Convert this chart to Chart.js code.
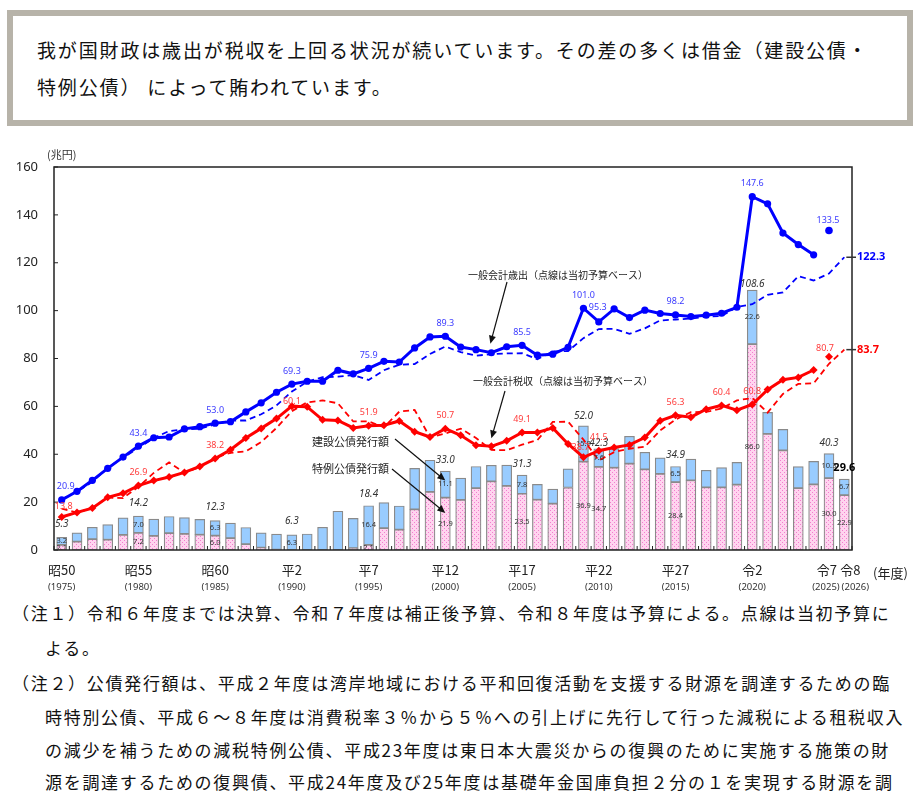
<!DOCTYPE html>
<html lang="ja">
<head>
<meta charset="utf-8">
<script src="https://cdn.jsdelivr.net/npm/chart.js@4.4.1/dist/chart.umd.min.js"></script>
<style>
  html, body { margin: 0; padding: 0; background: #fff; }
  body { width: 919px; height: 803px; position: relative; overflow: hidden;
         font-family: "Noto Sans CJK JP", sans-serif; color: #111; }
  #head { position: absolute; left: 7px; top: 10px; width: 906px; height: 116px;
          box-sizing: border-box; border: 6px solid #b7b3a9; background: #fff; }
  #head div { position: absolute; left: 24px; font-size: 19px; letter-spacing: 1.85px;
              line-height: 24px; white-space: pre; }
  #wrap { position: absolute; left: 0; top: 140px; width: 919px; height: 460px; }
  .note { position: absolute; font-size: 17px; letter-spacing: 1.7px; line-height: 22px; white-space: pre; }
</style>
</head>
<body>
<div id="head">
  <div style="top:22px">我が国財政は歳出が税収を上回る状況が続いています。その差の多くは借金（建設公債・</div>
  <div style="top:59px">特例公債） によって賄われています。</div>
</div>
<div id="wrap"><canvas id="chart" width="919" height="460"></canvas></div>
<div class="note" style="left:12px;top:602px">（注１）令和６年度までは決算、令和７年度は補正後予算、令和８年度は予算による。点線は当初予算に</div>
<div class="note" style="left:45px;top:637px">よる。</div>
<div class="note" style="left:12px;top:672px">（注２）公債発行額は、平成２年度は湾岸地域における平和回復活動を支援する財源を調達するための臨</div>
<div class="note" style="left:45px;top:706px">時特別公債、平成６～８年度は消費税率３％から５％への引上げに先行して行った減税による租税収入</div>
<div class="note" style="left:45px;top:739px">の減少を補うための減税特例公債、平成23年度は東日本大震災からの復興のために実施する施策の財</div>
<div class="note" style="left:45px;top:771px">源を調達するための復興債、平成24年度及び25年度は基礎年金国庫負担２分の１を実現する財源を調</div>

<script>
// 年度（昭50〜令8）
const years = [1975,1976,1977,1978,1979,1980,1981,1982,1983,1984,
               1985,1986,1987,1988,1989,1990,1991,1992,1993,1994,
               1995,1996,1997,1998,1999,2000,2001,2002,2003,2004,
               2005,2006,2007,2008,2009,2010,2011,2012,2013,2014,
               2015,2016,2017,2018,2019,2020,2021,2022,2023,2024,
               2025,2026];
const tickYears = [1975,1980,1985,1990,1995,2000,2005,2010,2015,2020,2025,2026];
const tickEras = ['昭50','昭55','昭60','平2','平7','平12','平17','平22','平27','令2','令7','令8'];

// 一般会計歳出・決算（兆円）1975-2024
const expSettled = [20.9,24.5,29.1,34.1,38.8,43.4,46.9,47.2,50.6,51.5,
                    53.0,53.6,57.7,61.5,65.9,69.3,70.5,70.5,75.1,73.6,
                    75.9,78.8,78.5,84.4,89.0,89.3,84.8,83.7,82.4,84.9,
                    85.5,81.4,81.8,84.7,101.0,95.3,100.7,97.1,100.2,98.8,
                    98.2,97.5,98.1,98.9,101.4,147.6,144.6,132.4,127.6,123.3];
const expRevised2025 = 133.5;
// 一般会計歳出・当初予算 1975-2026
const expInitial = [21.3,24.3,28.5,34.3,38.6,42.6,46.8,49.7,50.4,50.6,
                    52.5,54.1,54.1,56.7,60.4,66.2,70.3,72.2,72.4,73.1,
                    71.0,75.1,77.4,77.7,81.9,85.0,82.7,81.2,81.8,82.1,
                    82.2,79.7,83.0,83.1,88.5,92.3,92.4,90.3,92.6,95.9,
                    96.3,96.7,97.5,97.7,101.5,102.7,106.6,107.6,114.4,112.6,
                    115.5,122.3];

// 一般会計税収・決算 1975-2024
const taxSettled = [13.8,15.7,17.5,22.0,23.7,26.9,29.0,30.5,32.4,34.9,
                    38.2,41.9,46.8,50.8,54.9,60.1,59.8,54.4,54.1,51.0,
                    51.9,52.1,53.9,49.4,47.2,50.7,47.9,43.8,43.3,45.6,
                    49.1,49.1,51.0,44.3,38.7,41.5,42.8,43.9,47.0,54.0,
                    56.3,55.5,58.8,60.4,58.4,60.8,67.0,71.1,72.1,75.2];
const taxRevised2025 = 80.7;
// 一般会計税収・当初予算 1975-2026
const taxInitial = [17.3,15.6,17.6,21.9,21.7,26.4,32.2,36.6,32.3,34.6,
                    38.5,40.6,41.2,45.1,51.0,58.0,61.7,62.5,61.3,53.7,
                    53.7,51.3,57.8,58.5,47.1,48.7,50.7,46.8,41.8,41.7,
                    44.0,45.9,53.5,53.6,46.1,37.4,40.9,42.3,43.1,50.0,
                    54.5,57.6,57.7,59.1,62.5,63.5,57.4,65.2,69.4,69.6,
                    77.8,83.7];

// 建設公債発行額 1975-2026
const constructionBonds = [3.2,3.7,5.0,6.3,7.1,7.0,7.0,7.0,6.8,6.4,
                           6.3,6.2,6.9,6.2,6.4,6.3,6.7,9.5,16.2,12.4,
                           16.4,10.7,9.9,17.1,13.2,11.1,9.1,9.1,6.7,8.7,
                           7.8,6.4,6.0,7.8,15.0,7.6,8.0,11.4,7.1,6.7,
                           6.5,8.9,7.1,8.2,9.3,22.6,9.0,8.8,9.0,9.6,
                           10.3,6.7];
// 特例公債発行額 1975-2026
const specialBonds = [2.1,3.5,4.5,4.3,6.3,7.2,5.9,7.0,6.7,6.4,
                      6.0,5.0,2.5,1.0,0.2,0,0,0,0,0.8,
                      2.1,9.1,8.5,17.0,24.3,21.9,20.9,25.8,28.7,26.8,
                      23.5,21.0,19.4,26.1,36.9,34.7,34.4,36.1,33.7,31.8,
                      28.4,29.1,26.2,26.2,27.3,86.0,48.5,41.6,25.8,27.4,
                      30.0,22.9];

// 数値ラベルを付ける年度
const expLabelYears = [1975,1980,1985,1990,1995,2000,2005,2009,2010,2015,2020];
const taxLabelYears = [1975,1980,1985,1990,1995,2000,2005,2009,2010,2015,2018,2020];
const bondLabelYears = [1975,1980,1985,1990,1995,2000,2005,2009,2010,2015,2020,2025,2026];
const bondTotalText = ['5.3','14.2','12.3','6.3','18.4','33.0','31.3','52.0','42.3','34.9','108.6','40.3','29.6'];

const BLUE = '#0000ff', RED = '#ff0000';
const BLUE_TXT = '#3a3aff', RED_TXT = '#ff3b3b';

const at = (arr, yr) => arr[years.indexOf(yr)];
const padded = arr => years.map((y, i) => i < arr.length ? arr[i] : null);
const only = (yr, v) => years.map(y => y === yr ? v : null);

function dotPattern() {
  const c = document.createElement('canvas');
  c.width = 4; c.height = 4;
  const g = c.getContext('2d');
  g.fillStyle = '#ffd4ef';
  g.fillRect(0, 0, 4, 4);
  g.fillStyle = '#f27fcf';
  g.fillRect(0, 0, 1, 1);
  g.fillRect(2, 2, 1, 1);
  return g.createPattern(c, 'repeat');
}

function put(ctx, s, x, y, font, color, align) {
  ctx.font = font;
  ctx.fillStyle = color;
  ctx.textAlign = align || 'center';
  ctx.textBaseline = 'middle';
  ctx.fillText(s, x, y);
}

function arrow(ctx, x1, y1, x2, y2) {
  const ang = Math.atan2(y2 - y1, x2 - x1);
  ctx.strokeStyle = '#111';
  ctx.fillStyle = '#111';
  ctx.lineWidth = 1.2;
  ctx.beginPath();
  ctx.moveTo(x1, y1);
  ctx.lineTo(x2 - 6 * Math.cos(ang), y2 - 6 * Math.sin(ang));
  ctx.stroke();
  ctx.beginPath();
  ctx.moveTo(x2, y2);
  ctx.lineTo(x2 - 8 * Math.cos(ang) + 3.5 * Math.sin(ang), y2 - 8 * Math.sin(ang) - 3.5 * Math.cos(ang));
  ctx.lineTo(x2 - 8 * Math.cos(ang) - 3.5 * Math.sin(ang), y2 - 8 * Math.sin(ang) + 3.5 * Math.cos(ang));
  ctx.closePath();
  ctx.fill();
}

// ラベル位置の微調整 [dx, dy]
const expNudge = {1975: [4, -14], 2010: [-1, -14]};
const taxNudge = {1975: [2, -11], 1990: [0, -5], 2009: [-3, -10]};
const bondNudge = {1975: [0, -13], 1980: [0, -13], 1985: [0, -13], 1990: [0, -14], 1995: [0, -12],
                   2009: [0, -10], 2010: [0, -6], 2020: [0, -6], 2025: [0, -10]};
// 令7・令8 の軸ラベルは左右に少し離す [era dx, year dx]
const tickNudge = {2025: [-2, -3], 2026: [6, 11]};

const decor = {
  id: 'decor',
  afterDatasetsDraw(chart) {
    const {ctx, chartArea: a, scales: {x, y}} = chart;
    const X = yr => x.getPixelForValue(years.indexOf(yr));
    const numFont = '9px "Noto Sans"';
    ctx.save();

    // 枠と内向きの目盛
    ctx.strokeStyle = '#222';
    ctx.lineWidth = 1.5;
    ctx.strokeRect(a.left, a.top, a.right - a.left, a.bottom - a.top);
    ctx.lineWidth = 1;
    y.ticks.forEach(t => {
      const py = y.getPixelForValue(t.value);
      ctx.beginPath(); ctx.moveTo(a.left, py); ctx.lineTo(a.left + 4, py); ctx.stroke();
    });
    for (let i = 0; i <= years.length; i++) {
      const px = x.getPixelForValue(i - 0.5);
      ctx.beginPath(); ctx.moveTo(px, a.bottom); ctx.lineTo(px, a.bottom - 4); ctx.stroke();
    }

    // 横軸ラベル
    tickYears.forEach((yr, i) => {
      const n = tickNudge[yr] || [0, 0];
      put(ctx, tickEras[i], X(yr) + n[0], a.bottom + 20, '13px "Noto Sans CJK JP"', '#222');
      put(ctx, '(' + yr + ')', X(yr) + n[1], a.bottom + 37, '9.5px "Noto Sans"', '#333');
    });
    put(ctx, '(年度)', a.right + 21, a.bottom + 23, '13px "Noto Sans CJK JP"', '#222', 'left');
    put(ctx, '(兆円)', a.left - 7, a.top - 12, '11px "Noto Sans CJK JP"', '#333', 'left');

    // 公債の内訳ラベル
    bondLabelYears.forEach((yr, i) => {
      const sp = at(specialBonds, yr), cb = at(constructionBonds, yr);
      if (cb > 0) put(ctx, cb.toFixed(1), X(yr), y.getPixelForValue(sp + cb / 2), '7.5px "Noto Sans"', '#333');
      if (sp > 0) put(ctx, sp.toFixed(1), X(yr), y.getPixelForValue(sp / 2), '7.5px "Noto Sans"', '#333');
      const n = bondNudge[yr] || [0, -11];
      const last = yr === 2026;
      put(ctx, bondTotalText[i], X(yr) + n[0], y.getPixelForValue(sp + cb) + n[1],
          last ? 'bold 11px "Noto Sans"' : 'italic 10px "Noto Sans"', last ? '#000' : '#333');
    });

    // 歳出・税収ラベル
    expLabelYears.forEach(yr => {
      const n = expNudge[yr] || [0, -13];
      put(ctx, at(expSettled, yr).toFixed(1), X(yr) + n[0], y.getPixelForValue(at(expSettled, yr)) + n[1], numFont, BLUE_TXT);
    });
    taxLabelYears.forEach(yr => {
      const n = taxNudge[yr] || [0, -13];
      put(ctx, at(taxSettled, yr).toFixed(1), X(yr) + n[0], y.getPixelForValue(at(taxSettled, yr)) + n[1], numFont, RED_TXT);
    });
    put(ctx, expRevised2025.toFixed(1), X(2025) - 1, y.getPixelForValue(expRevised2025) - 10, numFont, BLUE_TXT);
    put(ctx, taxRevised2025.toFixed(1), X(2025) - 4, y.getPixelForValue(taxRevised2025) - 8, numFont, RED_TXT);

    // 令8 当初予算の値（右端）
    [[at(expInitial, 2026), BLUE], [at(taxInitial, 2026), RED]].forEach(([v, col]) => {
      const py = y.getPixelForValue(v);
      ctx.strokeStyle = '#333'; ctx.lineWidth = 1.5;
      ctx.beginPath(); ctx.moveTo(X(2026) + 2, py); ctx.lineTo(a.right + 4, py); ctx.stroke();
      put(ctx, v.toFixed(1), a.right + 5, py, 'bold 11px "Noto Sans"', col, 'left');
    });

    // 注記と矢印
    const cjk = s => s + 'px "Noto Sans CJK JP"';
    put(ctx, '一般会計歳出（点線は当初予算ベース）', 468, 135, cjk(10), '#222', 'left');
    arrow(ctx, 507, 142, X(2003) - 1, y.getPixelForValue(at(expSettled, 2003)) - 9);
    put(ctx, '一般会計税収（点線は当初予算ベース）', 473, 241, cjk(10), '#222', 'left');
    arrow(ctx, 505, 251, X(2003), y.getPixelForValue(at(taxSettled, 2003)) - 8);
    put(ctx, '建設公債発行額', 312, 302, cjk(11), '#222', 'left');
    arrow(ctx, 395, 299, X(2000), y.getPixelForValue(29));
    put(ctx, '特例公債発行額', 312, 329, cjk(11), '#222', 'left');
    arrow(ctx, 392, 329, X(2000), y.getPixelForValue(15.5));

    ctx.restore();
  }
};

const pink = dotPattern();
const barStyle = {borderColor: '#8a8a8a', borderWidth: 1.2, borderSkipped: false, barThickness: 10, stack: 'bonds', order: 5};

new Chart(document.getElementById('chart'), {
  type: 'bar',
  data: {
    labels: years,
    datasets: [
      Object.assign({label: '特例公債発行額', data: specialBonds, backgroundColor: pink}, barStyle),
      Object.assign({label: '建設公債発行額', data: constructionBonds, backgroundColor: '#99ccff'}, barStyle),
      {type: 'line', label: '歳出（当初）', data: expInitial, borderColor: BLUE, borderWidth: 1.8,
       borderDash: [6, 4], pointRadius: 0, stack: 'ei', order: 2},
      {type: 'line', label: '税収（当初）', data: taxInitial, borderColor: RED, borderWidth: 1.8,
       borderDash: [6, 4], pointRadius: 0, stack: 'ti', order: 2},
      {type: 'line', label: '一般会計歳出', data: padded(expSettled), borderColor: BLUE, backgroundColor: BLUE,
       borderWidth: 3, pointRadius: 3.6, pointBorderWidth: 0, stack: 'es', order: 1},
      {type: 'line', label: '歳出（補正後）', data: only(2025, expRevised2025), showLine: false,
       backgroundColor: BLUE, borderColor: BLUE, pointRadius: 3.8, pointBorderWidth: 0, stack: 'er', order: 1},
      {type: 'line', label: '一般会計税収', data: padded(taxSettled), borderColor: RED, backgroundColor: RED,
       borderWidth: 3, pointStyle: 'rectRot', pointRadius: 4, pointBorderWidth: 0, stack: 'ts', order: 1},
      {type: 'line', label: '税収（補正後）', data: only(2025, taxRevised2025), showLine: false,
       backgroundColor: RED, borderColor: RED, pointStyle: 'rectRot', pointRadius: 4, pointBorderWidth: 0, stack: 'tr', order: 1}
    ]
  },
  options: {
    responsive: false,
    animation: false,
    layout: {padding: {left: 0, top: 27, right: 67, bottom: 0}},
    plugins: {legend: {display: false}, tooltip: {enabled: false}},
    scales: {
      x: {
        stacked: true,
        offset: true,
        grid: {display: false, drawTicks: false},
        border: {display: false},
        ticks: {display: false},
        afterFit: s => { s.height = 50; }
      },
      y: {
        stacked: true,
        min: 0,
        max: 160,
        grid: {display: false, drawTicks: false},
        border: {display: false},
        ticks: {stepSize: 20, padding: 16, color: '#222', font: {family: 'Noto Sans', size: 13}},
        afterFit: s => { s.width = 54; }
      }
    }
  },
  plugins: [decor]
});
</script>
</body>
</html>
